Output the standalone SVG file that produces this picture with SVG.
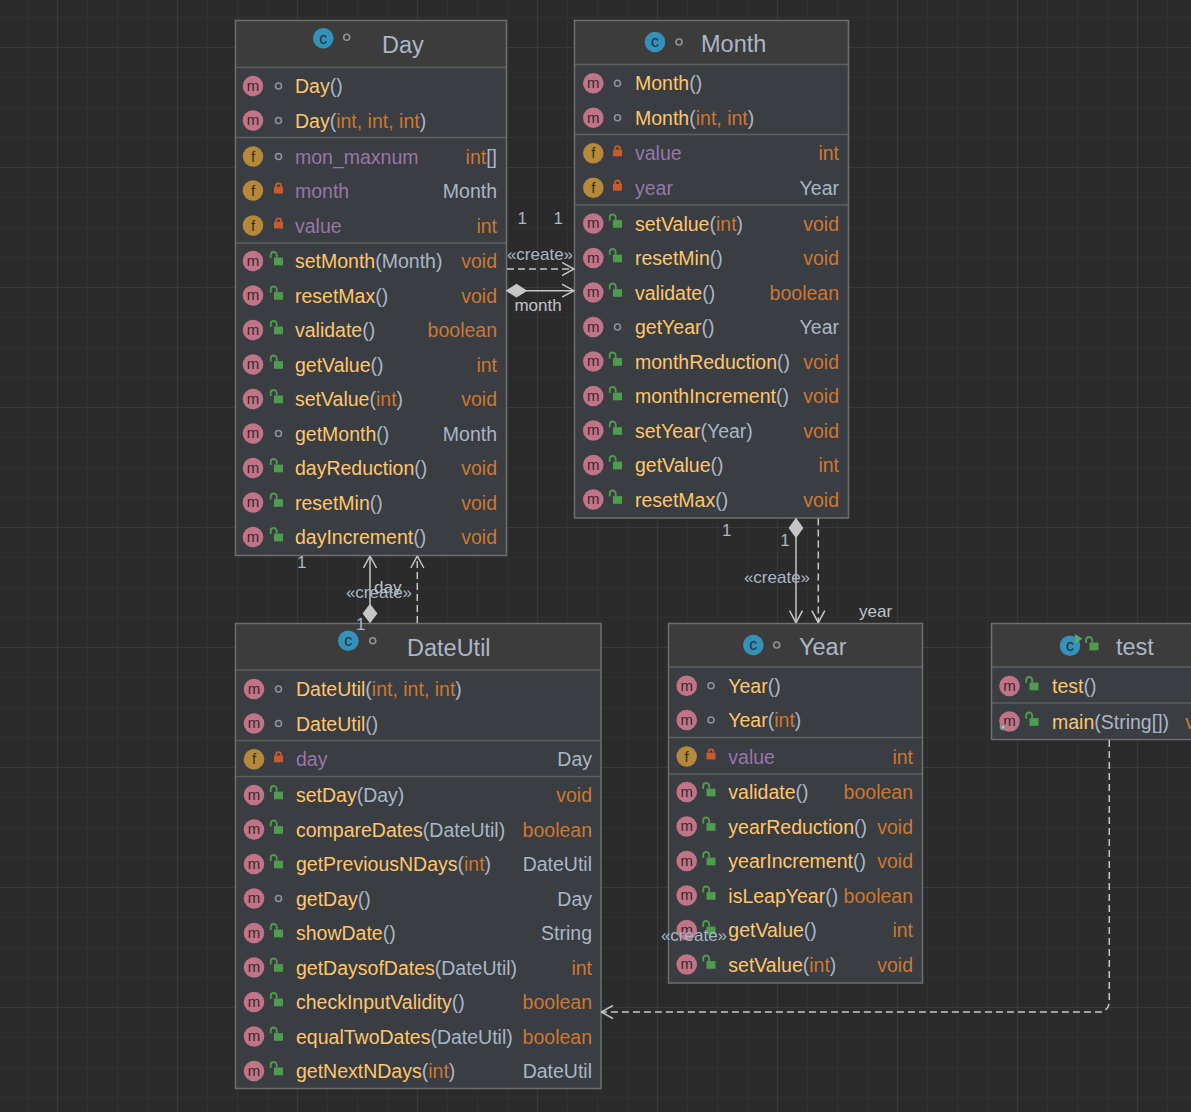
<svg xmlns="http://www.w3.org/2000/svg" width="1191" height="1112" viewBox="0 0 1191 1112">
<style>
.t{font-family:"Liberation Sans",Arial,sans-serif;font-size:19.5px}
.ti{font-family:"Liberation Sans",Arial,sans-serif;font-size:23.5px;fill:#a9b7c6}
.lb{font-family:"Liberation Sans",Arial,sans-serif;font-size:17px;fill:#a9b7c6}
.rl{font-family:"Liberation Sans",Arial,sans-serif;font-size:17px;fill:#bfc3c8}
.r{text-anchor:end}
.n{fill:#ffc66d}
.p{fill:#a9b7c6}
.o{fill:#cc7832}
.fd{fill:#9876aa}
.body{fill:#3a3d41}
.head{fill:#3c3c3c}
.sep{stroke:#5d5f61;stroke-width:1.5}
.frame{fill:none;stroke:#6e6e6e;stroke-width:1.5}
.ic{font-family:"Liberation Sans",Arial,sans-serif;text-anchor:middle}
</style>
<defs>
<pattern id="grid" x="57" y="47" width="120" height="120" patternUnits="userSpaceOnUse">
<rect width="120" height="120" fill="#2b2b2b"/>
<rect x="30" width="1" height="120" fill="#313131"/>
<rect x="60" width="1" height="120" fill="#313131"/>
<rect x="90" width="1" height="120" fill="#313131"/>
<rect y="30" width="120" height="1" fill="#313131"/>
<rect y="60" width="120" height="1" fill="#313131"/>
<rect y="90" width="120" height="1" fill="#313131"/>
<rect x="0" width="1" height="120" fill="#393939"/>
<rect y="0" width="120" height="1" fill="#393939"/>
</pattern>
<g id="im"><circle r="10.3" fill="#c07487"/><text class="ic" y="4.8" font-size="15" fill="#3a262c">m</text></g>
<g id="if"><circle r="10.3" fill="#b4893a"/><text class="ic" y="5" font-size="15" fill="#3c2e14">f</text></g>
<g id="icc"><circle r="10.3" fill="#3591b8"/><text class="ic" y="5.2" font-size="16" fill="#1b3443">c</text></g>
<g id="vk"><circle r="3" fill="none" stroke="#8d9399" stroke-width="1.6"/></g>
<g id="vr"><rect x="-4.5" y="-3.8" width="9" height="6.8" fill="#c9592e"/><path d="M-2.5 -3.8 V-4.7 a2.5 2.5 0 0 1 5 0 V-3.8" fill="none" stroke="#c9592e" stroke-width="1.8"/></g>
<g id="vu"><rect x="-4.5" y="-3.4" width="9" height="7.7" fill="#4f9c4f"/><path d="M-7.8 -3 V-6 a3 3 0 0 1 6 0 V-3.4" fill="none" stroke="#4f9c4f" stroke-width="1.8"/></g>
<marker id="arr" viewBox="0 0 13 15" refX="12.5" refY="7.5" markerWidth="13" markerHeight="15" markerUnits="userSpaceOnUse" orient="auto">
<path d="M0.5 1 L12.5 7.5 L0.5 14" fill="none" stroke="#c6c6c6" stroke-width="1.5" stroke-dasharray="none"/>
</marker>
</defs>
<rect width="1191" height="1112" fill="url(#grid)"/>

<g id="Day">
<rect x="235.5" y="20.5" width="271" height="535" class="body"/>
<rect x="235.5" y="20.5" width="271" height="47" class="head"/>
<line x1="236" x2="506" y1="67.5" y2="67.5" class="sep"/>
<line x1="236" x2="506" y1="137.5" y2="137.5" class="sep"/>
<line x1="236" x2="506" y1="243" y2="243" class="sep"/>
<use href="#icc" x="323.3" y="38.3"/><use href="#vk" x="346.7" y="37.3"/>
<text x="382" y="52.5" class="ti">Day</text>
<use href="#im" x="253" y="86"/><use href="#vk" x="278.5" y="86"/>
<text x="295" y="93" class="t"><tspan class="n">Day</tspan><tspan class="p">()</tspan></text>
<use href="#im" x="253" y="120.5"/><use href="#vk" x="278.5" y="120.5"/>
<text x="295" y="127.5" class="t"><tspan class="n">Day</tspan><tspan class="p">(</tspan><tspan class="o">int, int, int</tspan><tspan class="p">)</tspan></text>
<use href="#if" x="253" y="156.5"/><use href="#vk" x="278.5" y="156.5"/>
<text x="295" y="163.5" class="t fd">mon_maxnum</text><text x="497" y="163.5" class="t r o">int<tspan class="p">[]</tspan></text>
<use href="#if" x="253" y="190.5"/><use href="#vr" x="278.5" y="190.5"/>
<text x="295" y="197.5" class="t fd">month</text><text x="497" y="197.5" class="t r p">Month</text>
<use href="#if" x="253" y="225.5"/><use href="#vr" x="278.5" y="225.5"/>
<text x="295" y="232.5" class="t fd">value</text><text x="497" y="232.5" class="t r o">int</text>
<use href="#im" x="253" y="261"/><use href="#vu" x="278.5" y="261"/>
<text x="295" y="268" class="t"><tspan class="n">setMonth</tspan><tspan class="p">(Month)</tspan></text><text x="497" y="268" class="t r o">void</text>
<use href="#im" x="253" y="295.5"/><use href="#vu" x="278.5" y="295.5"/>
<text x="295" y="302.5" class="t"><tspan class="n">resetMax</tspan><tspan class="p">()</tspan></text><text x="497" y="302.5" class="t r o">void</text>
<use href="#im" x="253" y="330"/><use href="#vu" x="278.5" y="330"/>
<text x="295" y="337" class="t"><tspan class="n">validate</tspan><tspan class="p">()</tspan></text><text x="497" y="337" class="t r o">boolean</text>
<use href="#im" x="253" y="364.5"/><use href="#vu" x="278.5" y="364.5"/>
<text x="295" y="371.5" class="t"><tspan class="n">getValue</tspan><tspan class="p">()</tspan></text><text x="497" y="371.5" class="t r o">int</text>
<use href="#im" x="253" y="399"/><use href="#vu" x="278.5" y="399"/>
<text x="295" y="406" class="t"><tspan class="n">setValue</tspan><tspan class="p">(</tspan><tspan class="o">int</tspan><tspan class="p">)</tspan></text><text x="497" y="406" class="t r o">void</text>
<use href="#im" x="253" y="433.5"/><use href="#vk" x="278.5" y="433.5"/>
<text x="295" y="440.5" class="t"><tspan class="n">getMonth</tspan><tspan class="p">()</tspan></text><text x="497" y="440.5" class="t r p">Month</text>
<use href="#im" x="253" y="468"/><use href="#vu" x="278.5" y="468"/>
<text x="295" y="475" class="t"><tspan class="n">dayReduction</tspan><tspan class="p">()</tspan></text><text x="497" y="475" class="t r o">void</text>
<use href="#im" x="253" y="502.5"/><use href="#vu" x="278.5" y="502.5"/>
<text x="295" y="509.5" class="t"><tspan class="n">resetMin</tspan><tspan class="p">()</tspan></text><text x="497" y="509.5" class="t r o">void</text>
<use href="#im" x="253" y="537"/><use href="#vu" x="278.5" y="537"/>
<text x="295" y="544" class="t"><tspan class="n">dayIncrement</tspan><tspan class="p">()</tspan></text><text x="497" y="544" class="t r o">void</text>
<rect x="235.5" y="20.5" width="271" height="535" class="frame"/>
</g>

<g id="Month">
<rect x="574.5" y="20.5" width="274" height="497.5" class="body"/>
<rect x="574.5" y="20.5" width="274" height="44" class="head"/>
<line x1="575" x2="848" y1="64.5" y2="64.5" class="sep"/>
<line x1="575" x2="848" y1="134.5" y2="134.5" class="sep"/>
<line x1="575" x2="848" y1="205" y2="205" class="sep"/>
<use href="#icc" x="655" y="42"/><use href="#vk" x="679" y="42"/>
<text x="701" y="52" class="ti">Month</text>
<use href="#im" x="593.3" y="83.3"/><use href="#vk" x="617.5" y="83.3"/>
<text x="635" y="90.3" class="t"><tspan class="n">Month</tspan><tspan class="p">()</tspan></text>
<use href="#im" x="593.3" y="117.7"/><use href="#vk" x="617.5" y="117.7"/>
<text x="635" y="124.7" class="t"><tspan class="n">Month</tspan><tspan class="p">(</tspan><tspan class="o">int, int</tspan><tspan class="p">)</tspan></text>
<use href="#if" x="593.3" y="153.3"/><use href="#vr" x="617.5" y="153.3"/>
<text x="635" y="160.3" class="t fd">value</text><text x="839" y="160.3" class="t r o">int</text>
<use href="#if" x="593.3" y="187.7"/><use href="#vr" x="617.5" y="187.7"/>
<text x="635" y="194.7" class="t fd">year</text><text x="839" y="194.7" class="t r p">Year</text>
<use href="#im" x="593.3" y="223.5"/><use href="#vu" x="617.5" y="223.5"/>
<text x="635" y="230.5" class="t"><tspan class="n">setValue</tspan><tspan class="p">(</tspan><tspan class="o">int</tspan><tspan class="p">)</tspan></text><text x="839" y="230.5" class="t r o">void</text>
<use href="#im" x="593.3" y="258"/><use href="#vu" x="617.5" y="258"/>
<text x="635" y="265" class="t"><tspan class="n">resetMin</tspan><tspan class="p">()</tspan></text><text x="839" y="265" class="t r o">void</text>
<use href="#im" x="593.3" y="292.5"/><use href="#vu" x="617.5" y="292.5"/>
<text x="635" y="299.5" class="t"><tspan class="n">validate</tspan><tspan class="p">()</tspan></text><text x="839" y="299.5" class="t r o">boolean</text>
<use href="#im" x="593.3" y="327"/><use href="#vk" x="617.5" y="327"/>
<text x="635" y="334" class="t"><tspan class="n">getYear</tspan><tspan class="p">()</tspan></text><text x="839" y="334" class="t r p">Year</text>
<use href="#im" x="593.3" y="361.5"/><use href="#vu" x="617.5" y="361.5"/>
<text x="635" y="368.5" class="t"><tspan class="n">monthReduction</tspan><tspan class="p">()</tspan></text><text x="839" y="368.5" class="t r o">void</text>
<use href="#im" x="593.3" y="396"/><use href="#vu" x="617.5" y="396"/>
<text x="635" y="403" class="t"><tspan class="n">monthIncrement</tspan><tspan class="p">()</tspan></text><text x="839" y="403" class="t r o">void</text>
<use href="#im" x="593.3" y="430.5"/><use href="#vu" x="617.5" y="430.5"/>
<text x="635" y="437.5" class="t"><tspan class="n">setYear</tspan><tspan class="p">(Year)</tspan></text><text x="839" y="437.5" class="t r o">void</text>
<use href="#im" x="593.3" y="465"/><use href="#vu" x="617.5" y="465"/>
<text x="635" y="472" class="t"><tspan class="n">getValue</tspan><tspan class="p">()</tspan></text><text x="839" y="472" class="t r o">int</text>
<use href="#im" x="593.3" y="499.5"/><use href="#vu" x="617.5" y="499.5"/>
<text x="635" y="506.5" class="t"><tspan class="n">resetMax</tspan><tspan class="p">()</tspan></text><text x="839" y="506.5" class="t r o">void</text>
<rect x="574.5" y="20.5" width="274" height="497.5" class="frame"/>
</g>

<g id="Year">
<rect x="668.5" y="623.5" width="254" height="359.5" class="body"/>
<rect x="668.5" y="623.5" width="254" height="43.5" class="head"/>
<line x1="669" x2="922" y1="667" y2="667" class="sep"/>
<line x1="669" x2="922" y1="737.5" y2="737.5" class="sep"/>
<line x1="669" x2="922" y1="774" y2="774" class="sep"/>
<use href="#icc" x="753.3" y="645"/><use href="#vk" x="776.7" y="645"/>
<text x="799" y="655" class="ti">Year</text>
<use href="#im" x="686.7" y="685.7"/><use href="#vk" x="711" y="685.7"/>
<text x="728.3" y="692.7" class="t"><tspan class="n">Year</tspan><tspan class="p">()</tspan></text>
<use href="#im" x="686.7" y="720"/><use href="#vk" x="711" y="720"/>
<text x="728.3" y="727" class="t"><tspan class="n">Year</tspan><tspan class="p">(</tspan><tspan class="o">int</tspan><tspan class="p">)</tspan></text>
<use href="#if" x="686.7" y="756.5"/><use href="#vr" x="711" y="756.5"/>
<text x="728.3" y="763.5" class="t fd">value</text><text x="913" y="763.5" class="t r o">int</text>
<use href="#im" x="686.7" y="792"/><use href="#vu" x="711" y="792"/>
<text x="728.3" y="799" class="t"><tspan class="n">validate</tspan><tspan class="p">()</tspan></text><text x="913" y="799" class="t r o">boolean</text>
<use href="#im" x="686.7" y="826.5"/><use href="#vu" x="711" y="826.5"/>
<text x="728.3" y="833.5" class="t"><tspan class="n">yearReduction</tspan><tspan class="p">()</tspan></text><text x="913" y="833.5" class="t r o">void</text>
<use href="#im" x="686.7" y="861"/><use href="#vu" x="711" y="861"/>
<text x="728.3" y="868" class="t"><tspan class="n">yearIncrement</tspan><tspan class="p">()</tspan></text><text x="913" y="868" class="t r o">void</text>
<use href="#im" x="686.7" y="895.5"/><use href="#vu" x="711" y="895.5"/>
<text x="728.3" y="902.5" class="t"><tspan class="n">isLeapYear</tspan><tspan class="p">()</tspan></text><text x="913" y="902.5" class="t r o">boolean</text>
<use href="#im" x="686.7" y="930"/><use href="#vu" x="711" y="930"/>
<text x="728.3" y="937" class="t"><tspan class="n">getValue</tspan><tspan class="p">()</tspan></text><text x="913" y="937" class="t r o">int</text>
<use href="#im" x="686.7" y="964.5"/><use href="#vu" x="711" y="964.5"/>
<text x="728.3" y="971.5" class="t"><tspan class="n">setValue</tspan><tspan class="p">(</tspan><tspan class="o">int</tspan><tspan class="p">)</tspan></text><text x="913" y="971.5" class="t r o">void</text>
<rect x="668.5" y="623.5" width="254" height="359.5" class="frame"/>
</g>

<g id="DateUtil">
<rect x="235.5" y="623.5" width="365.5" height="465" class="body"/>
<rect x="235.5" y="623.5" width="365.5" height="46.5" class="head"/>
<line x1="236" x2="600.5" y1="670" y2="670" class="sep"/>
<line x1="236" x2="600.5" y1="740.5" y2="740.5" class="sep"/>
<line x1="236" x2="600.5" y1="776.5" y2="776.5" class="sep"/>
<use href="#icc" x="348.3" y="640.7"/><use href="#vk" x="372.7" y="640.7"/>
<text x="407" y="656" class="ti">DateUtil</text>
<use href="#im" x="254" y="689"/><use href="#vk" x="278.5" y="689"/>
<text x="296" y="696" class="t"><tspan class="n">DateUtil</tspan><tspan class="p">(</tspan><tspan class="o">int, int, int</tspan><tspan class="p">)</tspan></text>
<use href="#im" x="254" y="723.5"/><use href="#vk" x="278.5" y="723.5"/>
<text x="296" y="730.5" class="t"><tspan class="n">DateUtil</tspan><tspan class="p">()</tspan></text>
<use href="#if" x="254" y="759.3"/><use href="#vr" x="278.5" y="759.3"/>
<text x="296" y="766.3" class="t fd">day</text><text x="592" y="766.3" class="t r p">Day</text>
<use href="#im" x="254" y="795"/><use href="#vu" x="278.5" y="795"/>
<text x="296" y="802" class="t"><tspan class="n">setDay</tspan><tspan class="p">(Day)</tspan></text><text x="592" y="802" class="t r o">void</text>
<use href="#im" x="254" y="829.5"/><use href="#vu" x="278.5" y="829.5"/>
<text x="296" y="836.5" class="t"><tspan class="n">compareDates</tspan><tspan class="p">(DateUtil)</tspan></text><text x="592" y="836.5" class="t r o">boolean</text>
<use href="#im" x="254" y="864"/><use href="#vu" x="278.5" y="864"/>
<text x="296" y="871" class="t"><tspan class="n">getPreviousNDays</tspan><tspan class="p">(</tspan><tspan class="o">int</tspan><tspan class="p">)</tspan></text><text x="592" y="871" class="t r p">DateUtil</text>
<use href="#im" x="254" y="898.5"/><use href="#vk" x="278.5" y="898.5"/>
<text x="296" y="905.5" class="t"><tspan class="n">getDay</tspan><tspan class="p">()</tspan></text><text x="592" y="905.5" class="t r p">Day</text>
<use href="#im" x="254" y="933"/><use href="#vu" x="278.5" y="933"/>
<text x="296" y="940" class="t"><tspan class="n">showDate</tspan><tspan class="p">()</tspan></text><text x="592" y="940" class="t r p">String</text>
<use href="#im" x="254" y="967.5"/><use href="#vu" x="278.5" y="967.5"/>
<text x="296" y="974.5" class="t"><tspan class="n">getDaysofDates</tspan><tspan class="p">(DateUtil)</tspan></text><text x="592" y="974.5" class="t r o">int</text>
<use href="#im" x="254" y="1002"/><use href="#vu" x="278.5" y="1002"/>
<text x="296" y="1009" class="t"><tspan class="n">checkInputValidity</tspan><tspan class="p">()</tspan></text><text x="592" y="1009" class="t r o">boolean</text>
<use href="#im" x="254" y="1036.5"/><use href="#vu" x="278.5" y="1036.5"/>
<text x="296" y="1043.5" class="t"><tspan class="n">equalTwoDates</tspan><tspan class="p">(DateUtil)</tspan></text><text x="592" y="1043.5" class="t r o">boolean</text>
<use href="#im" x="254" y="1071"/><use href="#vu" x="278.5" y="1071"/>
<text x="296" y="1078" class="t"><tspan class="n">getNextNDays</tspan><tspan class="p">(</tspan><tspan class="o">int</tspan><tspan class="p">)</tspan></text><text x="592" y="1078" class="t r p">DateUtil</text>
<rect x="235.5" y="623.5" width="365.5" height="465" class="frame"/>
</g>

<g id="test">
<rect x="991.5" y="623.5" width="240" height="116" class="body"/>
<rect x="991.5" y="623.5" width="240" height="43.5" class="head"/>
<line x1="992" x2="1231" y1="667" y2="667" class="sep"/>
<line x1="992" x2="1231" y1="703" y2="703" class="sep"/>
<use href="#icc" x="1070" y="645.7"/>
<polygon points="1075,634 1082.5,638.7 1075,643.4" fill="#59a869"/>
<use href="#vu" x="1094" y="646"/>
<text x="1116" y="655" class="ti">test</text>
<use href="#im" x="1009.5" y="686"/><use href="#vu" x="1034" y="686"/>
<text x="1052" y="693" class="t"><tspan class="n">test</tspan><tspan class="p">()</tspan></text>
<use href="#im" x="1009.5" y="721.5"/><use href="#vu" x="1034" y="721.5"/>
<circle cx="1003" cy="727" r="3.3" fill="#8e8e8e"/><circle cx="1003" cy="727" r="1.2" fill="#c4c4c4"/>
<text x="1052" y="728.5" class="t"><tspan class="n">main</tspan><tspan class="p">(String[])</tspan></text><text x="1221" y="728.5" class="t r o">void</text>
<rect x="991.5" y="623.5" width="240" height="116" class="frame"/>
</g>

<g id="connectors" fill="none" stroke="#c6c6c6" stroke-width="1.5">
<path d="M507 269 H574" stroke-dasharray="7 4" marker-end="url(#arr)"/>
<path d="M526 290.7 H574" marker-end="url(#arr)"/>
<polygon points="507,290.7 516.5,284.7 526,290.7 516.5,296.7" fill="#c6c6c6"/>
<path d="M370 605 V556" marker-end="url(#arr)"/>
<polygon points="370,622 376.5,613.5 370,605 363.5,613.5" fill="#c6c6c6"/>
<path d="M417.3 623 V556" stroke-dasharray="7 4" marker-end="url(#arr)"/>
<path d="M796 537 V622.7" marker-end="url(#arr)"/>
<polygon points="796,519 802.5,528 796,537 789.5,528" fill="#c6c6c6"/>
<path d="M818.3 518.5 V622.7" stroke-dasharray="7 4" marker-end="url(#arr)"/>
<path d="M1109.3 740 V1002 a10 10 0 0 1 -10 10 H601" stroke-dasharray="7 4" marker-end="url(#arr)"/>
<g stroke="none">
<text x="522.3" y="223.5" class="lb" text-anchor="middle">1</text>
<text x="558.3" y="223.5" class="lb" text-anchor="middle">1</text>
<text x="540" y="260" class="lb" text-anchor="middle">«create»</text>
<text x="538" y="311" class="rl" text-anchor="middle">month</text>
<text x="301.7" y="568" class="lb" text-anchor="middle">1</text>
<text x="374" y="593" class="rl">day</text>
<text x="379" y="598" class="lb" text-anchor="middle">«create»</text>
<text x="360.7" y="629.5" class="lb" text-anchor="middle">1</text>
<text x="726.7" y="536" class="lb" text-anchor="middle">1</text>
<text x="785" y="546" class="lb" text-anchor="middle">1</text>
<text x="777" y="583" class="lb" text-anchor="middle">«create»</text>
<text x="859" y="616.5" class="rl">year</text>
<text x="694" y="941" class="lb" text-anchor="middle">«create»</text>
</g>
</g>
</svg>
